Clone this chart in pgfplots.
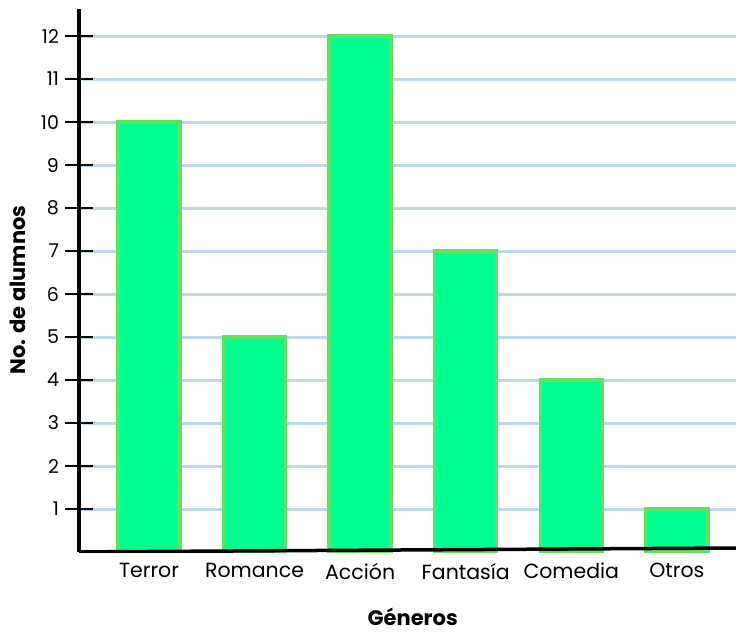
\documentclass[border=0pt]{standalone}
\usepackage{fontspec}
\setmainfont{Poppins}
\usepackage{pgfplots}
\pgfplotsset{compat=1.18}
\definecolor{barfill}{HTML}{00FF91}
\definecolor{baredge}{HTML}{5EE35E}
\definecolor{gridblue}{HTML}{BDD7EE}
\begin{document}
\begin{tikzpicture}
\path[use as bounding box] (0,0) rectangle (736pt,632pt);
\begin{axis}[
    at={(79pt,80pt)}, anchor=south west,
    scale only axis, width=657pt, height=543pt,
    xmin=-0.663, xmax=5.56, ymin=0, ymax=12.63,
    axis lines*=left,
    axis line style={black, line width=3.5pt, -},
    x axis line style={draw=none},
    xtick=data,
    xticklabels={Terror,Romance,Acción,Fantasía,Comedia,Otros},
    x tick style={draw=none},
    ytick={1,...,12},
    y tick style={black, line width=2.5pt},
    major tick length=27pt, tick align=center,
    ymajorgrids, grid style={gridblue, line width=3pt},
    tick label style={font=\fontsize{19}{22}\selectfont},
    xticklabel style={font=\fontsize{20.5}{24}\selectfont, yshift=6pt},
    yticklabel style={xshift=-3pt},
    /pgf/number format/assume math mode=true,
    xlabel={Géneros}, ylabel={No. de alumnos},
    label style={font=\fontsize{21}{24}\selectfont\bfseries},
    xlabel style={at={(axis description cs:0.508,-0.1197)}, anchor=center},
    ylabel style={at={(axis description cs:-0.0928,0.4825)}, anchor=center},
]
\addplot[ybar, bar width=62pt, fill=barfill, draw=baredge, line width=3.5pt]
    coordinates {(0,10) (1,5) (2,12) (3,7) (4,4) (5,1)};
\draw[black, line width=3.5pt] ([xshift=-14pt]rel axis cs:0,0) -- ([yshift=4pt]rel axis cs:1,0);
\end{axis}
\end{tikzpicture}
\end{document}
